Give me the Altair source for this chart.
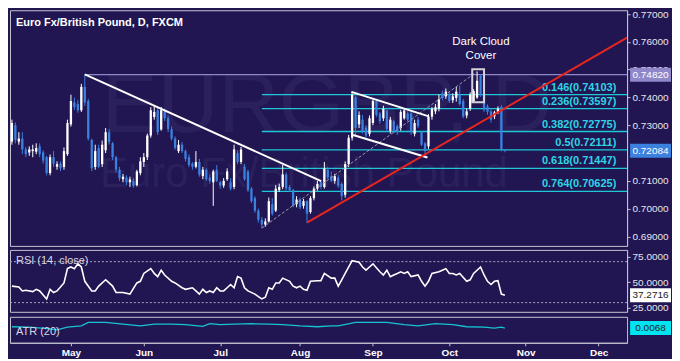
import altair as alt
import pandas as pd

# ---------------- data ----------------
# bar index = trading days counted from 1 Apr 2015 (May 1 = 22)
bar_index = list(range(5, 148))
opens = [
    .7241, .7300, .7241, .7252, .7213, .7202, .7207, .7205, .7224, .7202,
    .7185, .7128, .7185, .7151, .7162, .7150, .7196, .7303, .7382, .7376,
    .7354, .7438, .7387, .7247, .7150, .7218, .7160, .7210, .7275, .7235,
    .7185, .7140, .7106, .7112, .7095, .7100, .7085, .7128, .7168, .7185,
    .7263, .7330, .7354, .7285, .7350, .7325, .7286, .7252, .7207, .7230,
    .7207, .7185, .7162, .7151, .7168, .7117, .7140, .7112, .7095, .7140,
    .7095, .7083, .7106, .7095, .7078, .7200, .7168, .7151, .7134, .7072,
    .7038, .6993, .6960, .6943, .6954, .7016, .6993, .7067, .7078, .7123,
    .7078, .7067, .7016, .7033, .7010, .7027, .6988, .7038, .7072, .7095,
    .7078, .7140, .7117, .7100, .7112, .7089, .7050, .7160, .7255, .7400,
    .7303, .7320, .7291, .7269, .7308, .7387, .7342, .7325, .7353, .7280,
    .7314, .7297, .7290, .7325, .7342, .7342, .7269, .7320, .7275, .7235,
    .7224, .7331, .7350, .7359, .7415, .7404, .7412, .7390, .7398, .7410,
    .7387, .7335, .7359, .7386, .7400, .7477, .7410, .7368, .7350, .7332,
    .7348, .7366, .7212,
]
highs = [
    .7320, .7310, .7275, .7275, .7222, .7224, .7230, .7235, .7235, .7210,
    .7190, .7195, .7207, .7170, .7170, .7220, .7320, .7410, .7399, .7390,
    .7449, .7483, .7395, .7252, .7230, .7230, .7245, .7290, .7286, .7240,
    .7190, .7150, .7125, .7120, .7115, .7110, .7140, .7185, .7200, .7270,
    .7365, .7372, .7362, .7366, .7360, .7335, .7295, .7260, .7247, .7240,
    .7213, .7195, .7168, .7207, .7179, .7150, .7145, .7123, .7140, .7157,
    .7100, .7110, .7145, .7110, .7230, .7210, .7222, .7160, .7140, .7078,
    .7045, .7000, .6970, .6965, .7040, .7038, .7085, .7090, .7157, .7130,
    .7085, .7072, .7045, .7040, .7035, .7030, .7045, .7080, .7100, .7100,
    .7168, .7150, .7134, .7125, .7120, .7095, .7170, .7265, .7421, .7405,
    .7350, .7337, .7300, .7335, .7393, .7395, .7348, .7370, .7360, .7330,
    .7320, .7303, .7355, .7358, .7350, .7350, .7320, .7330, .7280, .7240,
    .7340, .7365, .7376, .7410, .7425, .7432, .7418, .7415, .7438, .7443,
    .7395, .7360, .7418, .7430, .7493, .7483, .7418, .7375, .7356, .7352,
    .7368, .7372, .7214,
]
lows = [
    .7230, .7235, .7230, .7196, .7185, .7190, .7185, .7196, .7185, .7162,
    .7120, .7120, .7150, .7140, .7135, .7140, .7190, .7295, .7355, .7345,
    .7348, .7370, .7245, .7135, .7140, .7145, .7150, .7200, .7230, .7175,
    .7130, .7100, .7095, .7085, .7078, .7075, .7080, .7120, .7150, .7175,
    .7255, .7320, .7265, .7280, .7315, .7275, .7245, .7212, .7200, .7200,
    .7170, .7150, .7140, .7145, .7115, .7106, .7100, .7090, .7010, .7095,
    .7072, .7075, .7100, .7065, .7070, .7160, .7160, .7100, .7060, .7020,
    .6985, .6950, .6930, .6935, .6950, .6975, .6988, .7060, .7070, .7065,
    .7060, .7005, .7005, .6998, .7000, .6949, .6982, .7030, .7065, .7070,
    .7072, .7105, .7095, .7090, .7075, .7030, .7040, .7150, .7245, .7260,
    .7290, .7270, .7255, .7260, .7300, .7330, .7305, .7315, .7280, .7270,
    .7270, .7265, .7280, .7320, .7315, .7265, .7260, .7290, .7225, .7188,
    .7215, .7320, .7340, .7350, .7390, .7395, .7380, .7380, .7385, .7370,
    .7325, .7325, .7352, .7380, .7395, .7402, .7348, .7338, .7310, .7322,
    .7340, .7206, .7203,
]
closes = [
    .7308, .7247, .7252, .7213, .7196, .7213, .7213, .7218, .7196, .7173,
    .7128, .7185, .7162, .7160, .7145, .7207, .7308, .7387, .7365, .7354,
    .7438, .7382, .7252, .7145, .7207, .7151, .7230, .7275, .7240, .7185,
    .7140, .7110, .7115, .7095, .7105, .7082, .7134, .7170, .7185, .7263,
    .7354, .7348, .7275, .7354, .7325, .7286, .7252, .7218, .7230, .7207,
    .7179, .7157, .7151, .7168, .7123, .7140, .7106, .7100, .7134, .7100,
    .7083, .7100, .7134, .7072, .7213, .7168, .7213, .7106, .7067, .7027,
    .6993, .6960, .6943, .6954, .7027, .6982, .7072, .7078, .7123, .7072,
    .7067, .7010, .7033, .7005, .7027, .6982, .7038, .7072, .7089, .7078,
    .7145, .7112, .7100, .7117, .7083, .7045, .7160, .7255, .7410, .7290,
    .7337, .7280, .7263, .7325, .7387, .7337, .7314, .7359, .7286, .7320,
    .7280, .7275, .7348, .7353, .7320, .7275, .7308, .7297, .7230, .7207,
    .7331, .7359, .7365, .7393, .7398, .7421, .7387, .7404, .7421, .7376,
    .7331, .7350, .7410, .7423, .7460, .7410, .7355, .7348, .7320, .7346,
    .7359, .7214, .72084,
]

month_pos = [22, 43, 65, 88, 109, 131, 153, 174]
month_names = ["May", "Jun", "Jul", "Aug", "Sep", "Oct", "Nov", "Dec"]
# 0.72000 is hidden behind the last-price box in the reference
price_ticks = [0.69, 0.70, 0.71, 0.73, 0.74, 0.75, 0.76, 0.77]

fib_ratios = ["0.146", "0.236", "0.382", "0.5", "0.618", "0.764"]
fib_levels = [0.74103, 0.73597, 0.72775, 0.72111, 0.71447, 0.70625]
fib_start_bar = 77

may_high = 0.74820
may_high_bar = 26
last_close = 0.72084

# drawn lines: (bar, price) -> (bar, price)
white_x1 = [26, 102.8, 103.3]
white_y1 = [0.7483, 0.7420, 0.7265]
white_x2 = [94.1, 125.1, 124.7]
white_y2 = [0.7099, 0.7332, 0.7184]
red_x1, red_y1, red_x2, red_y2 = [90], [0.6950], [182.2], [0.7615]
dash_x1, dash_y1, dash_x2, dash_y2 = [77], [0.6930], [139], [0.7493]

pattern_box = {"x1": [137.6], "x2": [141.0], "y1": [0.7501], "y2": [0.7383]}
pattern_text = ["Dark Cloud", "Cover"]
pattern_text_y = [0.7588, 0.7538]

rsi_idx = [5, 7, 8, 9, 11, 12, 13, 15, 16, 17, 18, 20, 21, 22, 23, 24, 25, 26, 28, 29,
           30, 32, 34, 35, 37, 39, 41, 42, 43, 45, 46, 47, 48, 49, 51, 52, 54, 55, 57, 58,
           59, 60, 61, 62, 63, 64, 65, 66, 67, 68, 69, 70, 71, 72, 73, 75, 76, 77, 78, 79,
           80, 81, 82, 83, 85, 86, 87, 88, 89, 90, 91, 93, 94, 95, 97, 98, 99, 100, 101, 103,
           105, 106, 107, 108, 109, 111, 112, 113, 114, 115, 116, 117, 118, 119, 120, 122,
           123, 124, 125, 126, 128, 129, 130, 131, 132, 133, 134, 136, 137, 138, 140, 141,
           142, 143, 144, 145, 146, 147]
rsi_val = [46.1, 45.2, 41.4, 42.0, 40.8, 43.0, 41.4, 33.6, 43.0, 39.9, 41.4, 49.2, 63.2,
           64.8, 63.2, 67.9, 64.8, 50.8, 41.4, 41.4, 46.1, 52.3, 46.1, 39.9, 39.9, 38.3,
           49.2, 50.8, 58.5, 63.2, 58.5, 55.4, 61.7, 57.0, 50.8, 49.2, 44.5, 43.0, 44.5,
           41.4, 38.3, 43.0, 39.9, 41.4, 39.9, 44.5, 41.4, 41.4, 44.5, 47.7, 44.5, 55.4,
           53.9, 44.5, 41.4, 38.3, 35.8, 33.6, 35.2, 44.5, 43.0, 49.2, 49.2, 53.9, 50.8,
           46.1, 44.5, 46.1, 43.0, 42.0, 50.8, 51.4, 51.4, 58.5, 53.9, 53.9, 46.1, 52.3,
           58.5, 71.0, 69.5, 64.8, 61.7, 64.8, 67.9, 60.1, 57.0, 61.7, 55.4, 57.0, 58.5,
           60.1, 58.5, 60.1, 55.4, 57.0, 50.8, 46.1, 50.8, 58.5, 60.1, 61.7, 63.2, 58.5,
           58.5, 57.0, 58.5, 50.8, 52.3, 58.5, 64.8, 57.0, 50.8, 47.7, 50.8, 51.4, 38.3,
           37.2716]
rsi_ticks = [25, 50, 75]
rsi_bands = [70, 30]
last_rsi = 37.2716

atr_idx = [5, 10, 16, 18, 21, 25, 27, 32, 37, 42, 46, 51, 55, 60, 62, 65, 69, 74, 79, 83,
           88, 93, 97, 99, 104, 108, 113, 118, 122, 127, 132, 136, 141, 144, 146, 147]
atr_val = [0.0071, 0.0070, 0.0066, 0.0064, 0.0070, 0.0073, 0.0081, 0.0081, 0.0077, 0.0073,
           0.0077, 0.0077, 0.0076, 0.0072, 0.0078, 0.0076, 0.0077, 0.0078, 0.0077, 0.0076,
           0.0073, 0.0071, 0.0073, 0.0073, 0.0081, 0.0081, 0.0081, 0.0076, 0.0073, 0.0078,
           0.0076, 0.0071, 0.0070, 0.0068, 0.0070, 0.0068]
last_atr = 0.0068

title_text = "Euro Fx/British Pound, D, FXCM"
watermark_text = ["EURGBP, D", "Euro Fx/British Pound"]

# ---------------- style ----------------
W = 618
H_MAIN, H_RSI, H_ATR = 236, 62, 26
BG = "#211651"
FRAME = "#c4c4d2"
AXLBL = "#e4e4ec"
UP = "#ffffff"
DOWN = "#3c80e0"
CYAN = "#1ec8d8"
CYAN_TXT = "#2ed4e4"
LAV = "#8f87c9"
RED = "#e8261e"
WM = "#2a205c"
FONT = "Liberation Sans"
X_MIN, X_MAX = 4.45, 182.2

xs = alt.Scale(domain=[X_MIN, X_MAX], nice=False, zero=False)
ys = alt.Scale(domain=[0.68661, 0.77135], nice=False, zero=False)
yax = alt.Axis(orient="right", values=price_ticks, format=".5f", title=None, grid=False,
               tickSize=3, labelPadding=2, labelFontSize=10, labelColor=AXLBL,
               tickColor=FRAME, domainColor=FRAME, labelFont=FONT)


def X(f):
    return alt.X(f, type="quantitative", scale=xs, axis=None)


def Yp(f):
    return alt.Y(f, type="quantitative", scale=ys, axis=yax)


bars = pd.DataFrame({"i": bar_index, "o": opens, "h": highs, "l": lows, "c": closes})
bars["col"] = [UP if c >= o else DOWN for o, c in zip(opens, closes)]

wm = alt.Chart(pd.DataFrame({"x": [30.9, 30.4], "y": [0.72746, 0.70788],
                             "t": watermark_text, "s": [84, 42]})).mark_text(
    align="left", baseline="alphabetic", color=WM, font=FONT).encode(
    x=X("x"), y=Yp("y"), text="t:N", size=alt.Size("s:Q", scale=None))

fib_df = pd.DataFrame({"x1": [fib_start_bar] * len(fib_levels), "x2": [X_MAX] * len(fib_levels),
                       "xl": [179.1] * len(fib_levels), "y": fib_levels,
                       "lab": [f"{r}({v:.5f})" for r, v in zip(fib_ratios, fib_levels)]})
fib_rules = alt.Chart(fib_df).mark_rule(color=CYAN, strokeWidth=1.3).encode(
    x=X("x1"), x2="x2:Q", y=Yp("y"))
fib_text = alt.Chart(fib_df).mark_text(align="right", baseline="bottom", dy=-2, color=CYAN_TXT,
                                       fontSize=11, fontWeight="bold", font=FONT).encode(
    x=X("xl"), y=Yp("y"), text="lab:N")

lav = alt.Chart(pd.DataFrame({"x1": [may_high_bar], "x2": [X_MAX], "y": [may_high]})).mark_rule(
    color=LAV, strokeWidth=1.2).encode(x=X("x1"), x2="x2:Q", y=Yp("y"))

wick = alt.Chart(bars).mark_rule(strokeWidth=1).encode(
    x=X("i"), y=Yp("l"), y2="h:Q", color=alt.Color("col:N", scale=None))
body = alt.Chart(bars).mark_rule(strokeWidth=2.3).encode(
    x=X("i"), y=Yp("o"), y2="c:Q", color=alt.Color("col:N", scale=None))


def seg_chart(x1, y1, x2, y2, **kw):
    df = pd.DataFrame({"x1": x1, "y1": y1, "x2": x2, "y2": y2})
    return alt.Chart(df).mark_rule(clip=True, **kw).encode(
        x=X("x1"), y=Yp("y1"), x2="x2:Q", y2="y2:Q")


dash = seg_chart(dash_x1, dash_y1, dash_x2, dash_y2, color="#9a9aaa", strokeWidth=1,
                 strokeDash=[3, 2])
wl = seg_chart(white_x1, white_y1, white_x2, white_y2, color="#ffffff", strokeWidth=2)
rl = seg_chart(red_x1, red_y1, red_x2, red_y2, color=RED, strokeWidth=2)

box = alt.Chart(pd.DataFrame(pattern_box)).mark_rect(filled=False, stroke="#d4d4dc",
                                                     strokeWidth=2).encode(
    x=X("x1"), x2="x2:Q", y=Yp("y1"), y2="y2:Q")
dc_text = alt.Chart(pd.DataFrame({"x": [140.1, 140.1], "y": pattern_text_y,
                                  "t": pattern_text})).mark_text(
    align="center", baseline="alphabetic", color="#ffffff", fontSize=11.5, font=FONT).encode(
    x=X("x"), y=Yp("y"), text="t:N")

title = alt.Chart(pd.DataFrame({"t": [title_text]})).mark_text(
    align="left", baseline="top", color="#ffffff", fontSize=11, fontWeight="bold", font=FONT).encode(
    x=alt.value(6), y=alt.value(7), text="t:N")

mbox_df = pd.DataFrame({"p": [may_high, last_close], "lab": [f"{may_high:.5f}", f"{last_close:.5f}"],
                        "bg": [LAV, DOWN], "fg": ["#ffffff", "#ffffff"]})
mbox = alt.Chart(mbox_df).mark_rect(yOffset=-7, y2Offset=7).encode(
    x=alt.value(W + 3), x2=alt.value(W + 44), y=Yp("p"), y2="p:Q",
    color=alt.Color("bg:N", scale=None))
mbox_t = alt.Chart(mbox_df).mark_text(align="center", baseline="middle", fontSize=10,
                                      font=FONT).encode(
    x=alt.value(W + 23.5), y=Yp("p"), text="lab:N", color=alt.Color("fg:N", scale=None))

main = alt.layer(wm, fib_rules, lav, wick, body, fib_text, dash, wl, rl, box, dc_text,
                 title, mbox, mbox_t).properties(width=W, height=H_MAIN)

# ---------------- RSI panel ----------------
rs = alt.Scale(domain=[21, 81.5], nice=False, zero=False)
rax = alt.Axis(orient="right", values=rsi_ticks, format=".4f", title=None, grid=False,
               tickSize=3, labelPadding=2, labelFontSize=10, labelColor=AXLBL,
               tickColor=FRAME, domainColor=FRAME, labelFont=FONT)


def Yr(f):
    return alt.Y(f, type="quantitative", scale=rs, axis=rax)


rsi_df = pd.DataFrame({"i": rsi_idx, "v": rsi_val})
bands = alt.Chart(pd.DataFrame({"y": rsi_bands})).mark_rule(
    color="#a8a8bc", strokeWidth=1, strokeDash=[2, 2]).encode(y=Yr("y"))
rline = alt.Chart(rsi_df).mark_line(color="#ffffff", strokeWidth=1.6).encode(
    x=X("i"), y=Yr("v"))
rlab = alt.Chart(pd.DataFrame({"t": ["RSI (14, close)"]})).mark_text(
    align="left", baseline="middle", color="#d8d8e4", fontSize=11, font=FONT).encode(
    x=alt.value(6), y=alt.value(11), text="t:N")
rbox_df = pd.DataFrame({"p": [last_rsi], "lab": [f"{last_rsi:.4f}"]})
rbox = alt.Chart(rbox_df).mark_rect(yOffset=-7, y2Offset=7, color="#ffffff").encode(
    x=alt.value(W + 3), x2=alt.value(W + 44), y=Yr("p"), y2="p:Q")
rbox_t = alt.Chart(rbox_df).mark_text(align="center", baseline="middle", fontSize=10,
                                      color="#222222", font=FONT).encode(
    x=alt.value(W + 23.5), y=Yr("p"), text="lab:N")
rsi = alt.layer(bands, rline, rlab, rbox, rbox_t).properties(width=W, height=H_RSI)

# ---------------- ATR panel ----------------
label_expr = "''"
for p, n in reversed(list(zip(month_pos, month_names))):
    label_expr = f"datum.value == {p} ? '{n}' : ({label_expr})"
xax = alt.Axis(values=month_pos, labelExpr=label_expr, title=None, grid=False, tickSize=3,
               labelPadding=2, labelFontSize=10, labelFontWeight="bold", labelColor="#ffffff",
               tickColor=FRAME, domainColor=FRAME, labelFont=FONT)
as_ = alt.Scale(domain=[0.0034, 0.0094], nice=False, zero=False)


def Ya(f):
    return alt.Y(f, type="quantitative", scale=as_, axis=None)


atr_df = pd.DataFrame({"i": atr_idx, "v": atr_val})
aline = alt.Chart(atr_df).mark_line(color="#17c2d2", strokeWidth=1.3).encode(
    x=alt.X("i:Q", scale=xs, axis=xax), y=Ya("v"))
alab = alt.Chart(pd.DataFrame({"t": ["ATR (20)"]})).mark_text(
    align="left", baseline="middle", color="#d8d8e4", fontSize=11, font=FONT).encode(
    x=alt.value(6), y=alt.value(15), text="t:N")
abox_df = pd.DataFrame({"p": [last_atr], "lab": [f"{last_atr:.4f}"]})
abox = alt.Chart(abox_df).mark_rect(yOffset=-7, y2Offset=7, color="#00e3f0").encode(
    x=alt.value(W + 3), x2=alt.value(W + 44), y=Ya("p"), y2="p:Q")
abox_t = alt.Chart(abox_df).mark_text(align="center", baseline="middle", fontSize=10,
                                      color="#222222", font=FONT).encode(
    x=alt.value(W + 23.5), y=Ya("p"), text="lab:N")
atr = alt.layer(aline, alab, abox, abox_t).properties(width=W, height=H_ATR)

chart = alt.vconcat(main, rsi, atr, spacing=2).properties(
    background=BG, padding=0).configure_view(stroke=FRAME, strokeWidth=1)

chart.save("out.html", embed_options={"renderer": "svg", "actions": False})
